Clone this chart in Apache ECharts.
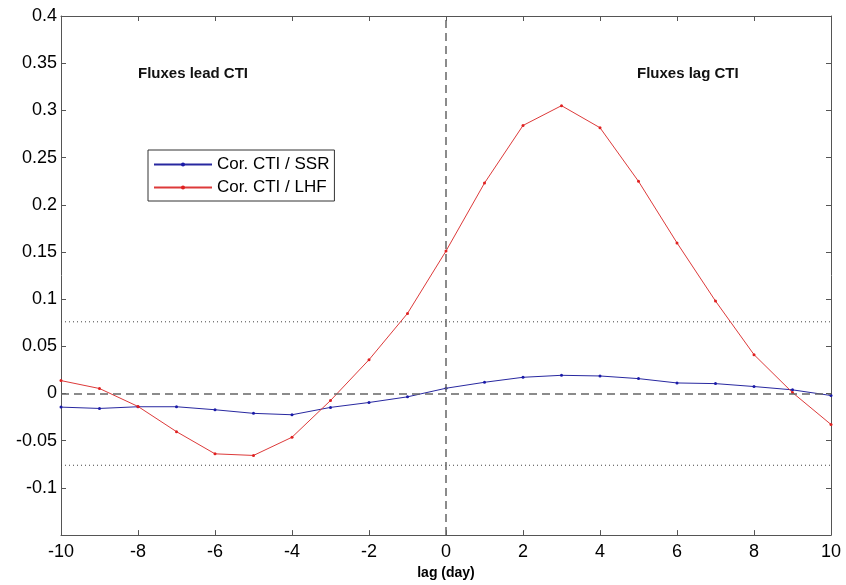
<!DOCTYPE html>
<html>
<head>
<meta charset="utf-8">
<script src="https://cdn.jsdelivr.net/npm/echarts@6/dist/echarts.min.js"></script>
<style>html,body{margin:0;padding:0;background:#fff}#c{width:846px;height:585px}</style>
</head>
<body>
<div id="c"></div>
<script>
const lags = [-10,-9,-8,-7,-6,-5,-4,-3,-2,-1,0,1,2,3,4,5,6,7,8,9,10];
const corSSR = [-0.0144,-0.0158,-0.014,-0.014,-0.0172,-0.021,-0.0225,-0.0147,-0.0095,-0.0035,0.0056,0.0119,0.0172,0.0193,0.0186,0.0158,0.0112,0.0105,0.0074,0.0039,-0.0021];
const corLHF = [0.0137,0.0053,-0.0137,-0.0404,-0.0639,-0.0656,-0.0463,-0.0074,0.0358,0.0849,0.151,0.223,0.284,0.305,0.2816,0.2248,0.1596,0.098,0.0412,0.001,-0.0328];
const sigLevel = [0.076, -0.076];
const seriesNames = ['Cor. CTI / SSR', 'Cor. CTI / LHF'];
const annotations = ['Fluxes lead CTI', 'Fluxes lag CTI'];
const xLabel = 'lag (day)';

const chart = echarts.init(document.getElementById('c'), null, {renderer: 'canvas'});
const font = 'Liberation Sans, Arial, Helvetica, sans-serif';
const axisCol = '#555';
const yFmt = v => (Math.abs(v + 0.15) < 1e-9) ? '' : String(+v.toFixed(2));
const xFirst = lags[0], xLast = lags[lags.length - 1];

const sigSeries = sigLevel.map(s => ({
  name: '_sig' + s, type: 'line', silent: true, symbol: 'none',
  data: [[xFirst, s], [xLast, s]],
  lineStyle: {color: '#444', type: [1, 3], width: 1}, z: 1
}));

chart.setOption({
  animation: false,
  backgroundColor: '#fff',
  grid: {left: 61, right: 15, top: 16, bottom: 49, containLabel: false},
  legend: {
    left: 148, top: 150, orient: 'vertical',
    data: seriesNames,
    borderColor: '#333', borderWidth: 1, borderRadius: 0,
    padding: [6, 5, 5, 5], itemGap: 6, itemWidth: 58, itemHeight: 5,
    textStyle: {fontFamily: font, fontSize: 17, color: '#000', padding: [0,0,0,0]}
  },
  xAxis: [
    {type: 'value', min: -10, max: 10, interval: 2, position: 'bottom',
     name: xLabel, nameLocation: 'middle', nameGap: 30,
     nameTextStyle: {fontFamily: font, fontSize: 14, fontWeight: 'bold', color: '#000'},
     axisLine: {onZero: false, lineStyle: {color: axisCol}},
     axisTick: {inside: true, length: 5, lineStyle: {color: axisCol}},
     axisLabel: {fontFamily: font, fontSize: 18, color: '#000', margin: 8},
     splitLine: {show: false}},
    {type: 'value', min: -10, max: 10, interval: 2, position: 'top',
     axisLine: {onZero: false, lineStyle: {color: axisCol}},
     axisTick: {inside: true, length: 5, lineStyle: {color: axisCol}},
     axisLabel: {show: false}, splitLine: {show: false}}
  ],
  yAxis: [
    {type: 'value', min: -0.15, max: 0.4, interval: 0.05, position: 'left',
     axisLine: {show: true, onZero: false, lineStyle: {color: axisCol}},
     axisTick: {show: true, inside: true, length: 5, lineStyle: {color: axisCol}},
     axisLabel: {fontFamily: font, fontSize: 18, color: '#000', margin: 4, formatter: yFmt},
     splitLine: {show: false}},
    {type: 'value', min: -0.15, max: 0.4, interval: 0.05, position: 'right',
     axisLine: {show: true, onZero: false, lineStyle: {color: axisCol}},
     axisTick: {show: true, inside: true, length: 5, lineStyle: {color: axisCol}},
     axisLabel: {show: false}, splitLine: {show: false}}
  ],
  graphic: [
    {type: 'text', left: 138, top: 66, style: {text: annotations[0], font: 'bold 15px ' + font, fill: '#111'}},
    {type: 'text', left: 637, top: 66, style: {text: annotations[1], font: 'bold 15px ' + font, fill: '#111'}}
  ],
  series: [
    {name: '_ref', type: 'line', data: [], silent: true,
     markLine: {silent: true, symbol: 'none', label: {show: false},
       data: [
         {yAxis: 0, lineStyle: {color: '#666', type: [8, 5], width: 1.5}},
         {xAxis: 0, lineStyle: {color: '#666', type: [8, 5], width: 1.5}}
       ]}},
    ...sigSeries,
    {name: seriesNames[0], type: 'line', data: lags.map((x, i) => [x, corSSR[i]]),
     symbol: 'circle', symbolSize: 3, showSymbol: true,
     lineStyle: {color: '#2828a0', width: 1}, itemStyle: {color: '#1a1aa8'}, z: 3},
    {name: seriesNames[1], type: 'line', data: lags.map((x, i) => [x, corLHF[i]]),
     symbol: 'circle', symbolSize: 3, showSymbol: true,
     lineStyle: {color: '#dd3a3a', width: 1}, itemStyle: {color: '#e02020'}, z: 4}
  ]
});
</script>
</body>
</html>
